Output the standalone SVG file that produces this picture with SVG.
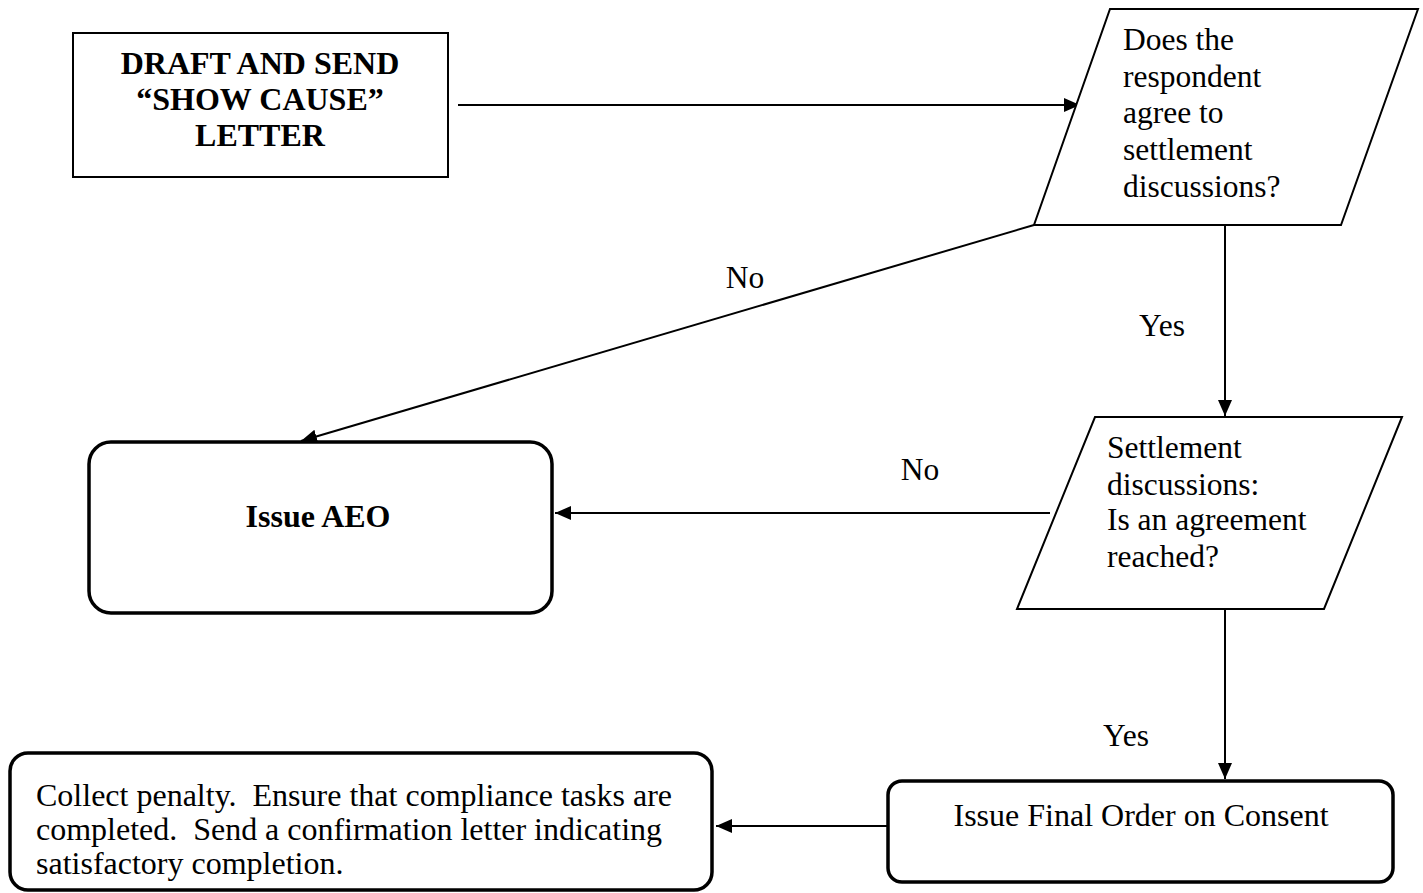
<svg xmlns="http://www.w3.org/2000/svg" width="1423" height="893" viewBox="0 0 1423 893">
<defs>
<marker id="arr" markerWidth="17" markerHeight="14" refX="16" refY="7" orient="auto" markerUnits="userSpaceOnUse">
<path d="M0,0 L16,7 L0,14 Z" fill="#000"/>
</marker>
<style>
.t{font-family:"Liberation Serif","Times New Roman",serif;font-size:32px;fill:#000;white-space:pre}
.p{font-size:31.5px}
.b{font-weight:bold}
.box{fill:#fff;stroke:#000;stroke-width:2}
.rbox{fill:#fff;stroke:#000;stroke-width:3.5}
.c{fill:none;stroke:#000;stroke-width:2;marker-end:url(#arr)}
</style>
</defs>
<rect width="1423" height="893" fill="#fff"/>
<g id="connectors">
<line class="c" x1="458" y1="105" x2="1080" y2="105"/>
<line class="c" x1="1034" y1="225" x2="301" y2="441"/>
<line class="c" x1="1225" y1="225" x2="1225" y2="416"/>
<line class="c" x1="1050" y1="513" x2="555" y2="513"/>
<line class="c" x1="1225" y1="609" x2="1225" y2="779"/>
<line class="c" x1="887" y1="826" x2="716" y2="826"/>
</g>
<g id="labels">
<text class="t p" x="745" y="288" text-anchor="middle">No</text>
<text class="t p" x="1162" y="336" text-anchor="middle">Yes</text>
<text class="t p" x="920" y="480" text-anchor="middle">No</text>
<text class="t p" x="1126" y="746" text-anchor="middle">Yes</text>
</g>
<g id="draft">
<rect class="box" x="73" y="33" width="375" height="144"/>
<text class="t b" x="260" y="74" text-anchor="middle">DRAFT AND SEND</text>
<text class="t b" x="260" y="110" text-anchor="middle">“SHOW CAUSE”</text>
<text class="t b" x="260" y="146" text-anchor="middle">LETTER</text>
</g>
<g id="agree">
<polygon class="box" points="1110,9 1418,9 1341,225 1034,225"/>
<text class="t p" x="1123" y="50">Does the</text>
<text class="t p" x="1123" y="87">respondent</text>
<text class="t p" x="1123" y="123">agree to</text>
<text class="t p" x="1123" y="160">settlement</text>
<text class="t p" x="1123" y="197">discussions?</text>
</g>
<g id="settlement">
<polygon class="box" points="1095,417 1402,417 1324,609 1017,609"/>
<text class="t p" x="1107" y="458">Settlement</text>
<text class="t p" x="1107" y="495">discussions:</text>
<text class="t p" x="1107" y="530">Is an agreement</text>
<text class="t p" x="1107" y="567">reached?</text>
</g>
<g id="aeo">
<rect class="rbox" x="89" y="442" width="463" height="171" rx="22" ry="22"/>
<text class="t b" x="318" y="527" text-anchor="middle">Issue AEO</text>
</g>
<g id="final">
<rect class="rbox" x="888" y="781" width="505" height="101" rx="14" ry="14"/>
<text class="t" x="1141" y="826" text-anchor="middle">Issue Final Order on Consent</text>
</g>
<g id="collect">
<rect class="rbox" x="10" y="753" width="702" height="137" rx="18" ry="18"/>
<text class="t" x="36" y="806" textLength="636">Collect penalty.  Ensure that compliance tasks are</text>
<text class="t" x="36" y="840" textLength="626">completed.  Send a confirmation letter indicating</text>
<text class="t" x="36" y="874">satisfactory completion.</text>
</g>
</svg>
